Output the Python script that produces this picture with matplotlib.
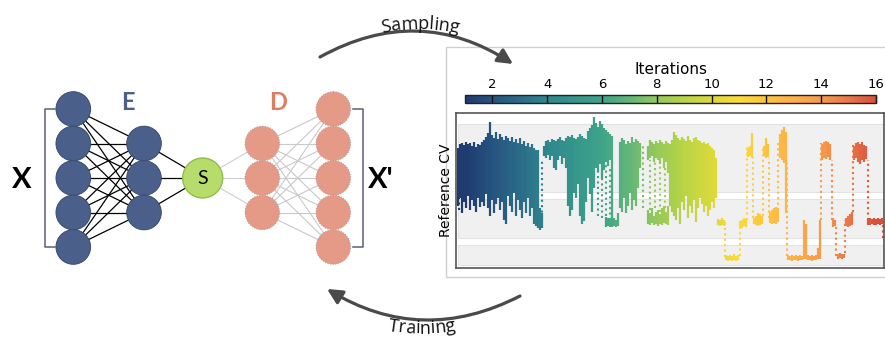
import numpy as np
import matplotlib
matplotlib.use('Agg')
import matplotlib.pyplot as plt
from matplotlib.patches import Circle, Rectangle, FancyArrowPatch, ArrowStyle
from matplotlib.colors import LinearSegmentedColormap, Normalize
from matplotlib.cm import ScalarMappable

# ---- data -------------------------------------------------------------
# colour of each iteration on the colour bar (1 ... 16)
iter_colors = ['#1f3b70', '#255480', '#2a6c88', '#2e878d', '#35968b', '#3fa38a',
               '#62b679', '#96c95a', '#b9d445', '#dad93d', '#fbdb38', '#fdc43f',
               '#fdb048', '#f79b48', '#e9784a', '#d8503a']
iter_min, iter_max = 1, 16
cbar_ticks = [2, 4, 6, 8, 10, 12, 14, 16]
# frames where the sampling run passes iteration 1 and iteration 16
frame_first, frame_last = 9, 420
n_frames = 428

# metastable states of the reference CV (low, high)
state_bands = [(3, 23), (30, 69), (76, 144)]

# (frame, cv low, cv high) of the dense parts of the trajectory
cols_iter1_3 = [(2, 62, 120), (4, 70, 124), (6, 55, 125), (8, 66, 123), (10, 60, 126),
                (12, 72, 124), (14, 58, 125), (16, 68, 122), (18, 62, 126), (20, 56, 121),
                (22, 70, 124), (24, 61, 123), (26, 66, 126), (28, 62, 128), (30, 74, 131),
                (32, 60, 135), (34, 52, 146), (36, 68, 133), (38, 55, 130), (40, 64, 136),
                (42, 70, 129), (44, 58, 134), (46, 66, 131), (48, 48, 128), (50, 44, 132),
                (52, 72, 130), (54, 62, 127), (56, 56, 131), (58, 75, 126), (60, 52, 129),
                (62, 68, 125), (64, 58, 130), (66, 50, 124), (68, 66, 127), (70, 55, 122),
                (72, 70, 125), (74, 52, 121), (76, 60, 124), (78, 44, 120), (80, 42, 118),
                (82, 40, 118), (84, 38, 60), (86, 40, 55)]
cols_iter4_7 = [(88, 112, 122), (90, 110, 127), (92, 113, 128), (94, 108, 126), (96, 112, 129),
                (98, 100, 128), (100, 98, 127), (102, 108, 129), (104, 112, 131), (106, 104, 128),
                (108, 110, 127), (110, 100, 130), (112, 62, 132), (114, 52, 131), (116, 58, 133),
                (118, 75, 130), (120, 70, 129), (122, 84, 131), (124, 52, 134), (126, 44, 132),
                (128, 47, 130), (130, 66, 129), (132, 90, 137), (134, 74, 140), (136, 56, 143),
                (138, 80, 151), (140, 100, 145), (142, 96, 141), (144, 104, 147), (146, 90, 144),
                (148, 98, 140), (150, 106, 138), (152, 102, 136), (154, 108, 134), (156, 50, 132),
                (150, 41, 51), (152, 42, 50), (154, 41, 49), (156, 41, 52), (158, 42, 50),
                (160, 41, 48), (162, 42, 55), (164, 60, 126), (166, 56, 130), (168, 70, 128),
                (170, 55, 124), (172, 62, 127), (174, 75, 125), (176, 58, 131), (178, 68, 126),
                (180, 62, 129), (182, 80, 127), (184, 100, 125), (192, 108, 122), (194, 110, 128),
                (196, 112, 126), (198, 106, 124), (200, 110, 127), (202, 108, 125), (204, 104, 128),
                (206, 110, 126), (208, 100, 124), (210, 106, 127), (212, 95, 125),
                (192, 44, 58), (194, 43, 55), (196, 45, 60), (198, 43, 52), (200, 44, 56),
                (202, 42, 58), (204, 44, 54), (206, 43, 60), (208, 45, 62), (210, 44, 56),
                (212, 43, 62)]
cols_iter8_10 = [(214, 62, 124), (216, 56, 128), (218, 52, 136), (220, 48, 133), (222, 60, 130),
                 (224, 44, 128), (226, 66, 131), (228, 58, 129), (230, 72, 127), (232, 50, 132),
                 (234, 62, 128), (236, 55, 126), (238, 68, 130), (240, 46, 131), (242, 60, 128),
                 (244, 70, 127), (246, 64, 125), (248, 56, 126), (250, 62, 124), (252, 52, 125),
                 (254, 58, 122), (256, 66, 120), (258, 60, 118), (260, 70, 110)]
cols_iter11_16 = [(262, 43, 49), (264, 42, 48), (266, 43, 50), (268, 42, 48),
                  (270, 8, 13), (272, 7, 12), (274, 8, 13), (276, 7, 12), (278, 8, 14),
                  (280, 7, 12), (282, 8, 13), (284, 41, 47), (286, 40, 48), (288, 42, 50),
                  (290, 41, 49), (292, 111, 120), (294, 112, 122), (296, 110, 135),
                  (298, 44, 50), (300, 43, 52), (302, 42, 55), (304, 43, 54), (306, 44, 52),
                  (308, 112, 122), (310, 110, 130), (312, 111, 124), (314, 45, 56),
                  (316, 44, 58), (318, 45, 60), (320, 44, 61), (322, 46, 58),
                  (324, 110, 134), (326, 108, 138), (328, 105, 141), (330, 108, 136),
                  (330, 55, 108), (332, 8, 13), (334, 8, 12), (336, 7, 13), (338, 8, 12),
                  (340, 8, 13), (342, 7, 12), (344, 8, 13), (346, 8, 12), (348, 9, 48),
                  (350, 9, 44), (352, 8, 13), (354, 8, 12), (356, 7, 13), (358, 8, 12),
                  (360, 8, 13), (362, 9, 20), (364, 9, 48), (366, 108, 124), (368, 110, 126),
                  (370, 109, 127), (372, 111, 126), (374, 108, 124), (377, 41, 50),
                  (379, 42, 48), (382, 9, 14), (384, 10, 15), (386, 9, 14), (388, 10, 14),
                  (390, 42, 50), (392, 41, 52), (394, 42, 54), (396, 43, 56),
                  (398, 108, 122), (400, 110, 125), (402, 106, 126), (404, 104, 124),
                  (406, 108, 126), (408, 106, 123), (410, 109, 122), (412, 43, 49),
                  (414, 43, 50), (416, 44, 49), (418, 43, 50), (420, 43, 49), (422, 44, 50),
                  (424, 43, 49), (426, 44, 50)]
# sparse jumps between states (frame, cv low, cv high)
jumps = [(3, 58, 100), (86, 50, 108), (142, 52, 100), (146, 50, 96), (150, 52, 104),
         (154, 48, 100), (187, 60, 125), (194, 58, 108), (199, 60, 106), (204, 56, 104),
         (209, 60, 100), (269, 11, 47), (284, 12, 45), (291, 48, 121), (297, 50, 111),
         (307, 52, 120), (313, 50, 110), (322, 58, 125), (331, 12, 105), (365, 48, 125),
         (376, 48, 108), (380, 12, 42), (389, 15, 48), (397, 56, 125), (412, 48, 108),
         (427, 30, 45)]

# ---- figure -------------------------------------------------------------
W, H = 885, 339
fig = plt.figure(figsize=(W / 100, H / 100), dpi=100)

# overlay in pixel coordinates for the network sketch
ax0 = fig.add_axes([0, 0, 1, 1])
ax0.set_xlim(0, W)
ax0.set_ylim(H, 0)
ax0.axis('off')

enc_col = '#4b5f8b'
dec_col = '#e59a88'
r_node = 17.3
in_x, hid_x, s_x, d1_x, d2_x = 73.3, 144, 202.7, 262.3, 333.3
y5 = [109, 143.5, 178, 212.5, 247]
y3 = [143.5, 178, 212.5]
yc = 178

for ya in y5:
    for yb in y3:
        ax0.plot([in_x, hid_x], [ya, yb], color='black', lw=0.9, zorder=1)
        ax0.plot([d1_x, d2_x], [yb, ya], color='#c9c9c9', lw=0.8, zorder=1)
for yb in y3:
    ax0.plot([hid_x, s_x], [yb, yc], color='black', lw=0.9, zorder=1)
    ax0.plot([s_x, d1_x], [yc, yb], color='#cfcfcf', lw=0.8, zorder=1)

for y in y5:
    ax0.add_patch(Circle((in_x, y), r_node, fc=enc_col, ec='#3b4b70', lw=0.7, zorder=2))
    ax0.add_patch(Circle((d2_x, y), r_node, fc=dec_col, ec='#b39c98', lw=0.7, ls=':', zorder=2))
for y in y3:
    ax0.add_patch(Circle((hid_x, y), r_node, fc=enc_col, ec='#3b4b70', lw=0.7, zorder=2))
    ax0.add_patch(Circle((d1_x, y), r_node, fc=dec_col, ec='#b39c98', lw=0.7, ls=':', zorder=2))
ax0.add_patch(Circle((s_x, yc), 20, fc='#b8dc6c', ec='#8dbf4a', lw=1.0, zorder=2))

ax0.text(s_x, yc + 1, 'S', fontsize=14, family='Lato', ha='center', va='center', zorder=3)
ax0.text(128.3, 103, 'E', fontsize=17, family='Lato', weight='bold', color='#4c6089',
         ha='center', va='center')
ax0.text(278, 103, 'D', fontsize=17, family='Lato', weight='bold', color='#e07c60',
         ha='center', va='center')
ax0.text(21.7, 180, 'X', fontsize=21, family='Lato', weight='bold', ha='center', va='center')
ax0.text(381, 180, "X'", fontsize=21, family='Lato', weight='bold', ha='center', va='center')

br_col = '#5a5f75'
ax0.plot([55, 45, 45, 55], [109, 109, 247, 247], color=br_col, lw=1.1)
ax0.plot([353, 362.7, 362.7, 353], [109, 109, 247, 247], color=br_col, lw=1.1)

# panel box
ax0.add_patch(Rectangle((446, 47), 460, 230, fc='white', ec='#cfcfcf', lw=1.0, zorder=0))

# curved arrows
head = ArrowStyle('-|>', head_length=9, head_width=4.5)
ax0.add_patch(FancyArrowPatch((320, 57), (513, 64), connectionstyle='arc3,rad=-0.30',
                              arrowstyle=head, mutation_scale=1, lw=2.3, color='#4a4a4a',
                              shrinkA=0, shrinkB=0, zorder=3))
ax0.add_patch(FancyArrowPatch((520, 296), (327, 289), connectionstyle='arc3,rad=-0.28',
                              arrowstyle=head, mutation_scale=1, lw=2.3, color='#4a4a4a',
                              shrinkA=0, shrinkB=0, zorder=3))


def arc_text(s, cx, cy, r, below, size):
    rend = fig.canvas.get_renderer()
    widths = [0.0]
    for i in range(1, len(s) + 1):
        t = ax0.text(0, 0, s[:i], fontsize=size, family='Open Sans')
        widths.append(t.get_window_extent(rend).width)
        t.remove()
    total = widths[-1]
    for i, ch in enumerate(s):
        mid = (widths[i] + widths[i + 1]) / 2 - total / 2
        phi = mid / r
        if below:
            x, y, rot = cx + r * np.sin(phi), cy + r * np.cos(phi), np.degrees(phi)
        else:
            x, y, rot = cx + r * np.sin(phi), cy - r * np.cos(phi), -np.degrees(phi)
        ax0.text(x, y, ch, fontsize=size, family='Open Sans', rotation=rot,
                 rotation_mode='anchor', ha='center', va='baseline', color='#111111')


arc_text('Sampling', 420, 201, 172, False, 13)
arc_text('Training', 422, 134.5, 199, True, 13)

# ---- sampling panel -----------------------------------------------------
cmap = LinearSegmentedColormap.from_list('iters', iter_colors)
frame_norm = Normalize(vmin=frame_first, vmax=frame_last)

ax = fig.add_axes([456 / W, 1 - 268 / H, 428 / W, 155 / H])
ax.set_xlim(0, n_frames)
ax.set_ylim(0, 155)
for lo, hi in state_bands:
    ax.axhspan(lo, hi, xmin=0.005, xmax=1, fc='#f0f0f0', ec='#e3e3e3', lw=0.8, zorder=0)

for cols in [cols_iter1_3, cols_iter4_7, cols_iter8_10, cols_iter11_16]:
    t, lo, hi = np.array(cols).T
    ax.vlines(t, lo, hi, colors=cmap(frame_norm(t)), lw=1.6, zorder=2)
t, lo, hi = np.array(jumps).T
ax.vlines(t, lo, hi, colors=cmap(frame_norm(t)), lw=1.5, linestyles=(0, (1, 1.6)), zorder=2)

ax.set_xticks([])
ax.set_yticks([])
for sp in ax.spines.values():
    sp.set_color('#555555')
    sp.set_linewidth(1.2)
ax.set_ylabel('Reference CV', fontsize=10, labelpad=2)

cax = fig.add_axes([465 / W, 1 - 102.7 / H, 411 / W, 7.4 / H])
sm = ScalarMappable(norm=Normalize(vmin=iter_min, vmax=iter_max), cmap=cmap)
cb = fig.colorbar(sm, cax=cax, orientation='horizontal', ticks=cbar_ticks)
cb.outline.set_linewidth(1.0)
cb.outline.set_edgecolor('#222222')
cax.xaxis.set_ticks_position('top')
cax.xaxis.set_label_position('top')
cax.tick_params(axis='x', direction='in', length=5.4, width=1.0, color='#111111',
                labelsize=9.5, pad=3)
cax.set_xlabel('Iterations', fontsize=11, labelpad=3)

fig.savefig('out.png', dpi=100)
